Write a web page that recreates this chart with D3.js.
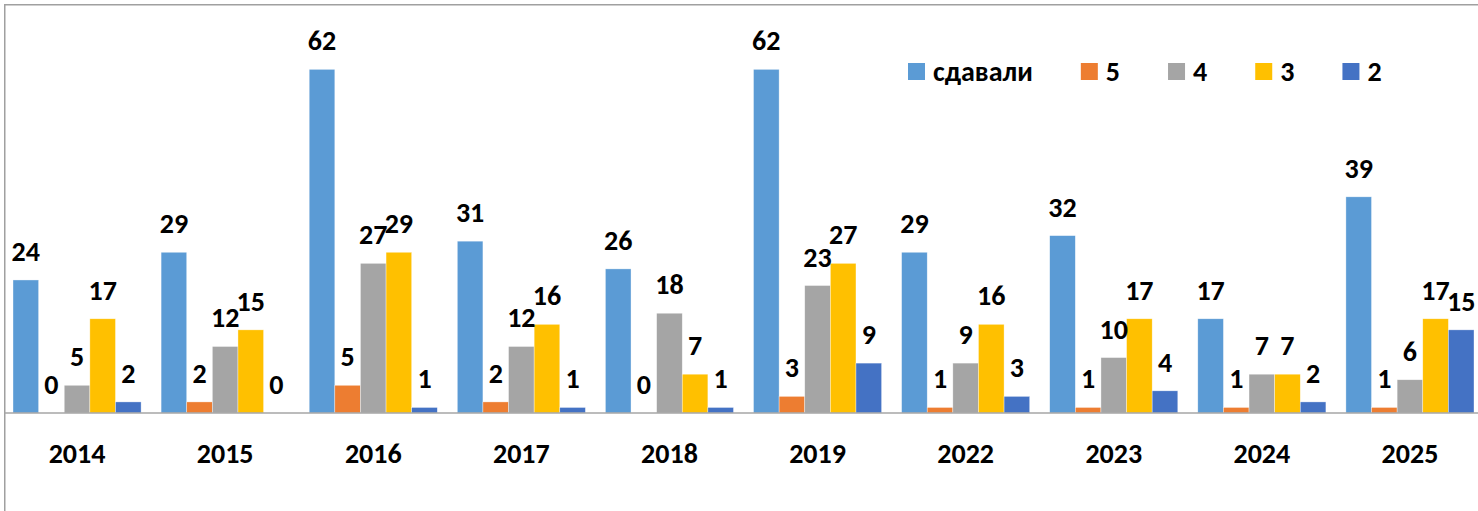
<!DOCTYPE html>
<html lang="ru">
<head>
    <meta charset="UTF-8">
    <title>Результаты по годам</title>
    <script src="https://d3js.org/d3.v7.min.js"></script>
    <style>
        body {
            margin: 0;
            padding: 0;
            overflow: hidden;
            background: #fff;
        }
        svg {
            font-family: Carlito, Lato, "Open Sans", sans-serif;
            font-weight: bold;
        }
    </style>
</head>
<body>
    <svg width="1478" height="511"></svg>

    <script>
        // data
        const years = ["2014", "2015", "2016", "2017", "2018", "2019", "2022", "2023", "2024", "2025"];
        const series = ["сдавали", "5", "4", "3", "2"];
        const colors = ["#5b9bd5", "#ed7d31", "#a5a5a5", "#ffc000", "#4472c4"];

        const sdavali = [24, 29, 62, 31, 26, 62, 29, 32, 17, 39];
        const grade5  = [0, 2, 5, 2, 0, 3, 1, 1, 1, 1];
        const grade4  = [5, 12, 27, 12, 18, 23, 9, 10, 7, 6];
        const grade3  = [17, 15, 29, 16, 7, 27, 16, 17, 7, 17];
        const grade2  = [2, 0, 1, 1, 1, 9, 3, 4, 2, 15];

        const values = [sdavali, grade5, grade4, grade3, grade2];

        const rows = years.map((yr, i) => ({
            year: yr,
            vals: series.map((s, j) => ({ key: s, value: values[j][i], idx: j }))
        }));

        const width = 1478;
        const height = 511;
        const baseY = 413;
        const fontSize = "28px";

        const svg = d3.select("svg");

        // outer frame (only top and left edges are in view)
        svg.append("rect")
            .attr("x", 4.75)
            .attr("y", 4.75)
            .attr("width", width + 20)
            .attr("height", height + 20)
            .attr("fill", "none")
            .attr("stroke", "#a0a0a0")
            .attr("stroke-width", 1.5);

        const x = d3.scaleBand()
            .domain(years)
            .range([3, 1484]);

        const xSub = d3.scaleBand()
            .domain(series)
            .range([10, x.bandwidth() - 10]);

        const y = d3.scaleLinear()
            .domain([0, 70])
            .range([baseY, 25]);

        const color = d3.scaleOrdinal().domain(series).range(colors);

        const groups = svg.append("g")
            .selectAll("g")
            .data(rows)
            .join("g")
            .attr("transform", d => `translate(${x(d.year)},0)`);

        groups.selectAll("rect")
            .data(d => d.vals)
            .join("rect")
            .attr("x", d => xSub(d.key))
            .attr("y", d => y(d.value))
            .attr("width", xSub.bandwidth())
            .attr("height", d => y(0) - y(d.value))
            .attr("fill", d => color(d.key))
            .attr("stroke", "rgba(255,255,255,0.6)")
            .attr("stroke-width", 0.6);

        groups.selectAll("text")
            .data(d => d.vals)
            .join("text")
            .attr("x", d => xSub(d.key) + xSub.bandwidth() / 2)
            .attr("y", d => y(d.value) - 19)
            .attr("text-anchor", "middle")
            .attr("font-size", fontSize)
            .attr("fill", "#000")
            .text(d => d.value);

        // category axis
        const axis = svg.append("g")
            .attr("transform", `translate(0,${baseY})`)
            .call(d3.axisBottom(x).tickSize(0).tickSizeOuter(0));

        axis.select(".domain")
            .attr("d", `M4.5,0H${width}`)
            .attr("stroke", "#a6a6a6")
            .attr("stroke-width", 1.5);

        axis.selectAll("text")
            .attr("y", 49.5)
            .attr("dy", 0)
            .attr("font-size", fontSize)
            .attr("font-family", "Carlito, Lato, 'Open Sans', sans-serif")
            .attr("font-weight", "bold")
            .attr("fill", "#000");

        // legend
        const legend = svg.append("g")
            .attr("transform", "translate(908,63)");

        let lx = 0;
        series.forEach((s, i) => {
            const item = legend.append("g").attr("transform", `translate(${lx},0)`);
            item.append("rect")
                .attr("width", 17)
                .attr("height", 17)
                .attr("fill", colors[i]);
            const t = item.append("text")
                .attr("x", 25)
                .attr("y", 17.5)
                .attr("font-size", fontSize)
                .attr("fill", "#000")
                .text(s);
            lx += 25 + t.node().getComputedTextLength() + 48;
        });
    </script>
</body>
</html>
